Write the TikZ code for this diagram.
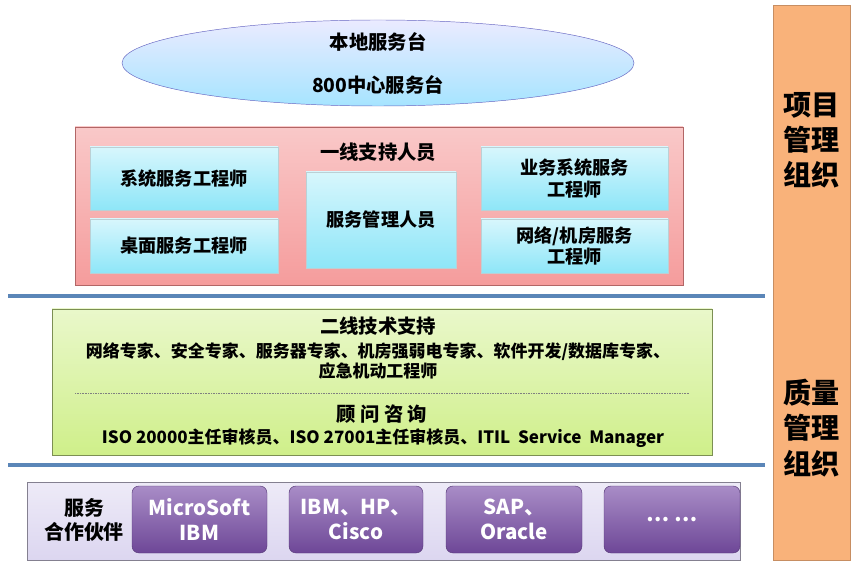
\documentclass[tikz,border=0pt]{standalone}
\usepackage{fontspec}
\setmainfont{Noto Sans CJK SC}
\usetikzlibrary{shapes.geometric,positioning,calc}
\definecolor{cyanbox}{HTML}{8EE6F8}
\definecolor{redbox}{HTML}{F59C9C}
\definecolor{greenbox}{HTML}{CFEF8A}
\definecolor{purplebox}{HTML}{7A4FA8}
\definecolor{lavender}{HTML}{DCD6F0}
\definecolor{orangebar}{HTML}{F9B27A}
\definecolor{sepline}{HTML}{5B86B8}
\tikzset{
  every node/.style={font=\bfseries},
  engbox/.style={draw=cyanbox!60!black!40, top color=cyanbox!35, bottom color=cyanbox, align=center, font=\fontsize{15.5}{18}\selectfont\bfseries},
  partnerbox/.style={draw=purplebox!70!black, rounded corners=6pt, top color=purplebox!65, bottom color=purplebox!90!black, text=white, align=center, font=\fontsize{17.5}{21}\selectfont\bfseries},
  barlabel/.style={align=center, font=\fontsize{24}{30}\selectfont\bfseries},
  titletext/.style={font=\fontsize{16.5}{20}\selectfont\bfseries},
  midtext/.style={font=\fontsize{14.5}{17}\selectfont\bfseries}
}
\begin{document}
\begin{tikzpicture}[x=0.03cm, y=-0.03cm]
    \useasboundingbox (0,0) rectangle (862,572);
    % right bar
    \node (bar) [draw=orangebar!80!black, fill=orangebar, minimum width=77*0.03cm, minimum height=555*0.03cm] at (811.5,282.5) {};
    \node (pm) [barlabel] at (811.5,140) {项目\\管理\\组织};
    \node (qm) [barlabel] at (811.5,428) {质量\\管理\\组织};
    % service desk
    \node (desk) [ellipse, draw=blue!60!black!60, top color=blue!8, bottom color=blue!30!cyan!35, minimum width=512*0.03cm, minimum height=86*0.03cm] at (378,63) {};
    \node (local) [titletext] at (378,42) {本地服务台};
    \node (center) [titletext] at (378,85) {800中心服务台};
    % first line
    \node (first) [draw=red!50!black!60, top color=redbox!55, bottom color=redbox, minimum width=608*0.03cm, minimum height=158*0.03cm] at (379,206) {};
    \node (firsttitle) [titletext] at (378,152) {一线支持人员};
    \node (sys) [engbox, minimum width=188*0.03cm, minimum height=63*0.03cm] at (184,178.5) {系统服务工程师};
    \node (desktop) [engbox, minimum width=188*0.03cm, minimum height=54*0.03cm] at (184,246) {桌面服务工程师};
    \node (mgr) [engbox, minimum width=150*0.03cm, minimum height=96*0.03cm] at (381,220) {服务管理人员};
    \node (biz) [engbox, minimum width=187*0.03cm, minimum height=63*0.03cm] at (574.5,178.5) {业务系统服务\\工程师};
    \node (net) [engbox, minimum width=187*0.03cm, minimum height=54*0.03cm] at (574.5,246) {网络/机房服务\\工程师};
    % separators
    \coordinate (s1a) at (8,296); \coordinate (s1b) at (765,296);
    \coordinate (s2a) at (8,465); \coordinate (s2b) at (765,465);
    \draw [sepline, line width=3pt] (s1a) -- (s1b);
    \draw [sepline, line width=3pt] (s2a) -- (s2b);
    % second line
    \node (second) [draw=greenbox!60!black, top color=greenbox!45, bottom color=greenbox, minimum width=660*0.03cm, minimum height=146*0.03cm] at (382,382) {};
    \node (sectitle) [titletext] at (378,326) {二线技术支持};
    \node (experts) [midtext, align=center] at (378,361) {网络专家、安全专家、服务器专家、机房强弱电专家、软件开发/数据库专家、\\应急机动工程师};
    \coordinate (d1) at (75,393); \coordinate (d2) at (690,393);
    \draw [densely dotted, gray] (d1) -- (d2);
    \node (consult) [titletext] at (382,414) {顾\ 问\ 咨\ 询};
    \node (iso) [midtext] at (383,438) {ISO 20000主任审核员、ISO 27001主任审核员、ITIL\ \ Service\ \ Manager};
    % partners
    \node (partners) [draw=lavender!60!black, top color=lavender!50, bottom color=lavender, minimum width=713*0.03cm, minimum height=78*0.03cm] at (383.5,521) {};
    \node (ptitle) [align=center, font=\fontsize{17}{20}\selectfont\bfseries] at (84,520) {服务\\合作伙伴};
    \node (ms) [partnerbox, minimum width=135*0.03cm, minimum height=67*0.03cm] at (199.5,519.5) {MicroSoft\\IBM};
    \node (ibm) [partnerbox, minimum width=134*0.03cm, minimum height=67*0.03cm] at (356,519.5) {IBM、HP、\\Cisco};
    \node (sap) [partnerbox, minimum width=136*0.03cm, minimum height=67*0.03cm] at (514,519.5) {SAP、\\Oracle};
    \node (more) [partnerbox, minimum width=136*0.03cm, minimum height=67*0.03cm] at (672,519.5) {… …};
\end{tikzpicture}
\end{document}
